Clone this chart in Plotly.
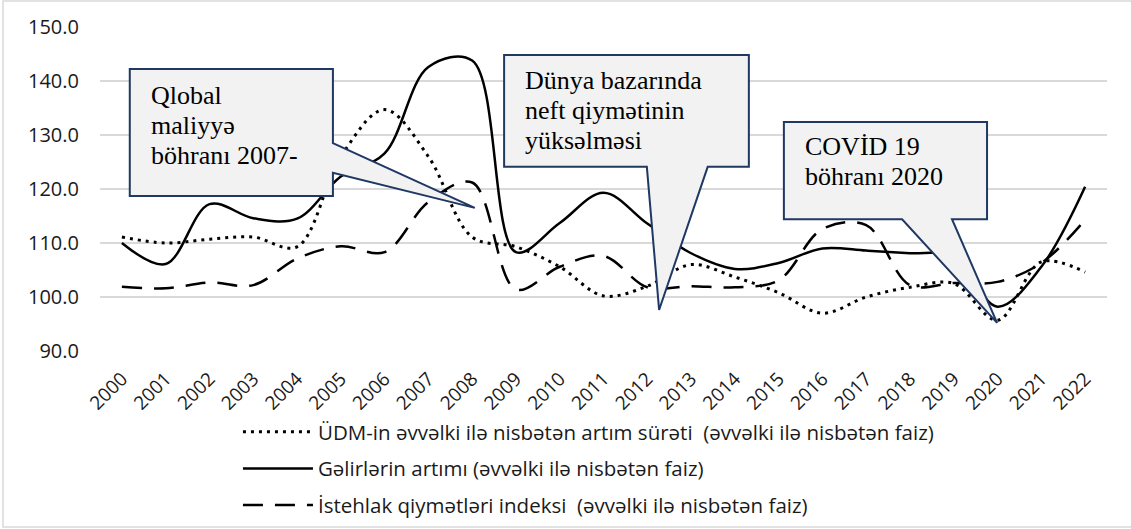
import plotly.graph_objects as go

# illər
years = [str(y) for y in range(2000, 2023)]

# ÜDM-in artım sürəti
gdp_growth = [111.1, 110.0, 110.7, 111.1, 109.3, 126.0, 134.7, 126.0, 111.1, 109.3,
              105.6, 100.2, 102.0, 106.0, 103.7, 100.8, 97.0, 100.0, 101.8, 102.5,
              95.7, 106.5, 104.6]

# Gəlirlərin artımı
income_growth = [110.0, 106.1, 117.2, 114.6, 114.5, 122.3, 126.6, 142.6, 143.8, 108.3,
                 113.7, 119.3, 113.6, 108.1, 105.2, 106.3, 109.0, 108.6, 108.1, 107.6,
                 98.2, 105.6, 120.4]

# İstehlak qiymətləri indeksi
cpi = [101.9, 101.6, 102.7, 102.2, 107.1, 109.4, 108.3, 117.6, 121.2, 101.4,
       105.6, 107.6, 101.8, 102.0, 101.8, 103.1, 112.6, 113.3, 102.2, 102.6,
       102.8, 106.3, 114.3]

series_names = [
    "ÜDM-in əvvəlki ilə nisbətən artım sürəti  (əvvəlki ilə nisbətən faiz)",
    "Gəlirlərin artımı (əvvəlki ilə nisbətən faiz)",
    "İstehlak qiymətləri indeksi  (əvvəlki ilə nisbətən faiz)",
]

callout_lines = [
    ["Qlobal", "maliyyə", "böhranı 2007-"],
    ["Dünya bazarında", "neft qiymətinin", "yüksəlməsi"],
    ["COVİD 19", "böhranı 2020"],
]

x_idx = list(range(len(years)))

fig = go.Figure()
styles = [
    dict(color="black", width=3, dash="3px,5px"),
    dict(color="black", width=2.5),
    dict(color="black", width=2.5, dash="20px,12px"),
]
for name, vals, st, g in zip(series_names, [gdp_growth, income_growth, cpi], styles, "abc"):
    fig.add_trace(go.Scatter(
        x=x_idx, y=vals, name=name, mode="lines",
        line=dict(shape="spline", smoothing=1.0, **st),
        legendgroup=g,
    ))

# callout qutuları (x: il indeksi, y: dəyər)
box_style = dict(fillcolor="#f2f2f2", line=dict(color="#1f3864", width=2),
                 layer="above", xref="x", yref="y")

boxes = [
    # x0, x1, y0, y1
    (0.18, 4.82, 118.7, 142.2),
    (8.73, 14.32, 124.1, 144.8),
    (15.12, 19.76, 114.4, 132.4),
]

x0, x1, y0, y1 = boxes[0]
paths = [
    # 1: quyruq sağ tərəfdə
    (f"M{x0},{y1} L{x1},{y1} L{x1},128.5 L8.06,116.5 L{x1},123.0 "
     f"L{x1},{y0} L{x0},{y0} Z"),
]
x0, x1, y0, y1 = boxes[1]
paths.append(f"M{x0},{y1} L{x1},{y1} L{x1},{y0} L13.38,{y0} L12.27,97.6 "
             f"L11.99,{y0} L{x0},{y0} Z")
x0, x1, y0, y1 = boxes[2]
paths.append(f"M{x0},{y1} L{x1},{y1} L{x1},{y0} L18.96,{y0} L19.99,95.2 "
             f"L17.82,{y0} L{x0},{y0} Z")

pad_top = [10, 9, 8]
for (bx0, bx1, by0, by1), path, lines, pt in zip(boxes, paths, callout_lines, pad_top):
    fig.add_shape(type="path", path=path, **box_style)
    for i, line in enumerate(lines):
        fig.add_annotation(x=bx0, y=by1, text=line, xanchor="left", yanchor="top",
                           xshift=19, yshift=-pt - 30 * i, align="left", showarrow=False,
                           font=dict(family="Liberation Serif", size=26, color="black"))

# xarici çərçivə
fig.add_shape(type="rect", xref="paper", yref="paper",
              x0=-0.0963, x1=1.03, y0=-0.543, y1=1.08,
              line=dict(color="#d9d9d9", width=1.5), fillcolor="rgba(0,0,0,0)",
              layer="below")

fig.update_layout(
    width=1131, height=529,
    margin=dict(l=100, r=24, t=27, b=178, autoexpand=False),
    paper_bgcolor="white", plot_bgcolor="white",
    font=dict(family="Open Sans", size=18, color="#1a1a1a"),
    showlegend=True,
    legend=dict(x=0.137, y=-0.188, xanchor="left", yanchor="top",
                orientation="v", tracegroupgap=7, itemwidth=70,
                font=dict(family="Open Sans", size=20.5, color="#1a1a1a"),
                bgcolor="rgba(0,0,0,0)"),
    xaxis=dict(range=[-0.5, 22.5], tickmode="array", tickvals=x_idx, ticktext=years,
               tickangle=-45, showgrid=False, zeroline=False, showline=False,
               ticks="", ticklabelstandoff=12, fixedrange=True,
               tickfont=dict(family="Open Sans", size=19, color="#1a1a1a")),
    yaxis=dict(range=[90, 150], dtick=10, tickformat=".1f", showgrid=True,
               gridcolor="#d9d9d9", gridwidth=1.5, zeroline=False, showline=False,
               ticks="", ticklabelstandoff=20,
               tickfont=dict(family="Open Sans", size=20, color="#1a1a1a")),
)

fig.write_html("out.html", config={"displayModeBar": False},
               post_script="document.body.style.margin='0';")
